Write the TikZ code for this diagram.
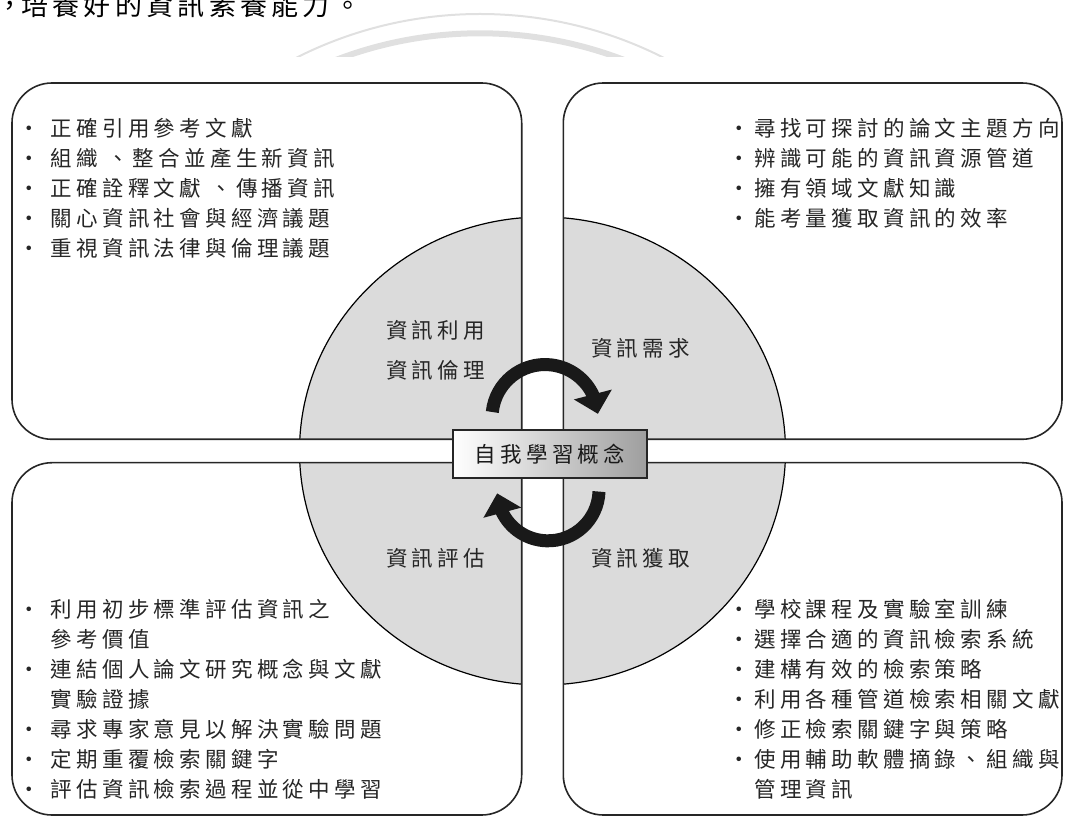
\documentclass[tikz,border=0pt]{standalone}
\usepackage{fontspec}
\usepackage{xcolor}
\newfontfamily\cjkfont{Noto Sans CJK TC}[LetterSpace=20]
\newfontfamily\headfont{Noto Sans CJK TC}
\usetikzlibrary{arrows.meta,bending}
\definecolor{quadgray}{gray}{0.86}
\definecolor{markgray}{gray}{0.88}
\newcommand{\dotL}{\makebox[23pt][l]{\makebox[4pt]{·}}}
\newcommand{\dotR}{\makebox[16.5pt][l]{\makebox[4pt]{·}}}
\newcommand{\padL}{\makebox[23pt]{}}
\newcommand{\padR}{\makebox[16.5pt]{}}

\begin{document}
\begin{tikzpicture}[x=1pt,y=1pt]
\tikzset{quadline/.style={draw=black!85,line width=1.6pt}}
\tikzset{listtext/.style={anchor=north west,align=left,inner sep=0pt,text=black!85,font=\cjkfont\fontsize{21.5}{30}\selectfont}}
\tikzset{stagetext/.style={anchor=west,inner sep=0pt,text=black!85,font=\cjkfont\fontsize{21.5}{30}\selectfont}}
\tikzset{headchar/.style={anchor=base west,inner sep=0pt,text=black,font=\headfont\fontsize{27}{30}\selectfont}}
\tikzset{cyclearrow/.style={draw=black!90,line width=13pt,-{Triangle[width=38pt,length=20pt,flex]}}}
\tikzset{centerbox/.style={draw=black!85,line width=1.8pt,left color=white,right color=black!38,minimum width=194pt,minimum height=48pt,inner sep=0pt,text=black!90,font=\cjkfont\fontsize{21.5}{30}\selectfont}}

\useasboundingbox (0,0) rectangle (1065,817);
\clip (0,0) rectangle (1065,817);

% faint arcs and cut line at the top
\begin{scope}
\clip (0,760) rectangle (1065,817);
\draw[markgray,line width=2pt] (480,396.3) circle[radius=406.7];
\draw[markgray,line width=6pt] (480,382.4) circle[radius=401.3];
\end{scope}
\node[headchar] (head0) at (-4,801.5) {，};
\foreach \ch [count=\i] in {培,養,好,的,資,訊,素,養,能,力,。}
  \node[headchar] (head\i) at (-10.3+\i*31.3,801.5) {\ch};

% disc and the two white bands
\filldraw[fill=quadgray,draw=black,line width=1.2pt] (542.5,366) ellipse [x radius=243, y radius=234];
\fill[white] (521.7,100) rectangle (563.3,640);
\fill[white] (250,354.3) rectangle (830,377.7);

% four boxes, inner corner square
\draw[quadline] (521.7,377.7) -- (52,377.7) arc[start angle=270,end angle=180,radius=40] -- (12,694) arc[start angle=180,end angle=90,radius=40] -- (481.7,734) arc[start angle=90,end angle=0,radius=40] -- cycle;
\draw[quadline] (563.3,377.7) -- (563.3,694) arc[start angle=180,end angle=90,radius=40] -- (1022,734) arc[start angle=90,end angle=0,radius=40] -- (1062,417.7) arc[start angle=0,end angle=-90,radius=40] -- cycle;
\draw[quadline] (521.7,354.3) -- (52,354.3) arc[start angle=90,end angle=180,radius=40] -- (12,42) arc[start angle=180,end angle=270,radius=40] -- (481.7,2) arc[start angle=270,end angle=360,radius=40] -- cycle;
\draw[quadline] (563.3,354.3) -- (563.3,42) arc[start angle=180,end angle=270,radius=40] -- (1022,2) arc[start angle=270,end angle=360,radius=40] -- (1062,314.3) arc[start angle=0,end angle=90,radius=40] -- cycle;

\node[listtext] (useList) at (27.5,698.5) {\dotL 正確引用參考文獻\\ \dotL 組織 、整合並產生新資訊\\ \dotL 正確詮釋文獻 、傳播資訊\\ \dotL 關心資訊社會與經濟議題\\ \dotL 重視資訊法律與倫理議題};
\node[listtext] (needList) at (737.5,698.5) {\dotR 尋找可探討的論文主題方向\\ \dotR 辨識可能的資訊資源管道\\ \dotR 擁有領域文獻知識\\ \dotR 能考量獲取資訊的效率};
\node[listtext] (evalList) at (27.5,218.2) {\dotL 利用初步標準評估資訊之\\ \padL 參考價值\\ \dotL 連結個人論文研究概念與文獻\\ \padL 實驗證據\\ \dotL 尋求專家意見以解決實驗問題\\ \dotL 定期重覆檢索關鍵字\\ \dotL 評估資訊檢索過程並從中學習};
\node[listtext] (getList) at (737.5,218.2) {\dotR 學校課程及實驗室訓練\\ \dotR 選擇合適的資訊檢索系統\\ \dotR 建構有效的檢索策略\\ \dotR 利用各種管道檢索相關文獻\\ \dotR 修正檢索關鍵字與策略\\ \dotR 使用輔助軟體摘錄、組織與\\ \padR 管理資訊};

\node[stagetext] (use) at (386,487) {資訊利用};
\node[stagetext] (ethics) at (386,447) {資訊倫理};
\node[stagetext] (need) at (591,468.7) {資訊需求};
\node[stagetext] (eval) at (386,258.7) {資訊評估};
\node[stagetext] (get) at (591,258.7) {資訊獲取};

\coordinate (useStart) at (492.3,405.0);
\coordinate (getStart) at (599,325.4);
\draw[cyclearrow] (useStart) arc[start angle=174, end angle=4, radius=53];
\draw[cyclearrow] (getStart) arc[start angle=-2, end angle=-176, radius=51];

\node[centerbox] (self) at (550,363) {自我學習概念};
\end{tikzpicture}
\end{document}
